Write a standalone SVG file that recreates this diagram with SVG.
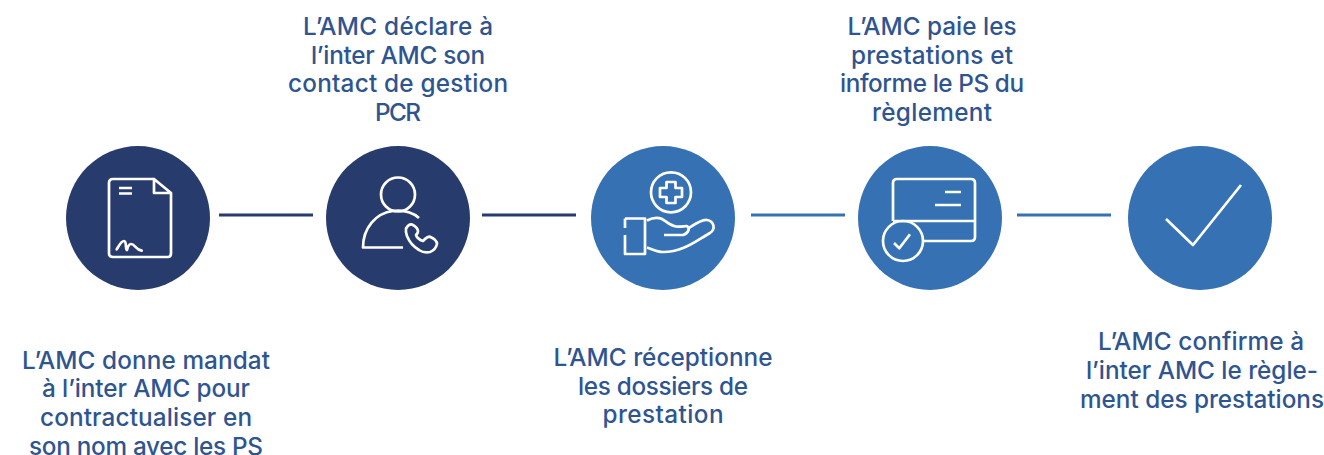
<svg xmlns="http://www.w3.org/2000/svg" width="1324" height="455" viewBox="0 0 1324 455">
<style>
.t{font-family:"Inter","Liberation Sans",sans-serif;font-size:24.3px;font-weight:500;fill:#2f5590;text-anchor:middle}
.i{fill:none;stroke:#fff;stroke-width:2.7;stroke-linejoin:round}
.dk{fill:#273b6c}.bl{fill:#3571b3}
</style>
<rect width="1324" height="455" fill="#fff"/>
<g id="connectors" fill="none" stroke-width="3">
<path d="M219 215H313M482 215H576" stroke="#273b6c"/>
<path d="M751 215H845M1017 215H1111" stroke="#3571b3"/>
</g>
<g id="node1"><circle class="dk" cx="138" cy="218" r="72"/>
<path class="i" d="M154 179H113Q109 179 109 183V253Q109 257 113 257H168Q171 257 171 253V193L154 179V193H171"/>
<path class="i" d="M119 188H132M119 193.500H132"/>
<path class="i" d="M116.700 249.300C119 246 121 241 124 241C127 241 125 249 127 250C128 246 129 244 131 244C135 244 136 250 141.700 250.700" stroke-linecap="round"/>
<text class="t" x="146" y="368.500" textLength="248">L’AMC donne mandat</text><text class="t" x="146" y="397" textLength="208">à l’inter AMC pour</text><text class="t" x="146" y="426" textLength="212">contractualiser en</text><text class="t" x="146" y="454.500" textLength="234">son nom avec les PS</text></g>
<g id="node2"><circle class="dk" cx="398" cy="218" r="72"/>
<circle class="i" cx="398" cy="194.500" r="17"/>
<path class="i" d="M419 218C412 212 402 210 393 211C376 213 363 228 363 247.500H403"/>
<path class="i" d="M406 228.500C408 225 410 224 412 224.500C415 226 418 229 418 231.500C418 233 417 234 416 235C417 238 420 240 423 241C425 239 427 236.500 430 236.700C433 238 437 241 437 244C436 248 433 251 430 252C426 253 422 252 419 250C414 247 409 241 407 236C406 233 405.500 231 406 228.500Z"/>
<text class="t" x="398" y="35" textLength="190">L’AMC déclare à</text><text class="t" x="398" y="64" textLength="174">l’inter AMC son</text><text class="t" x="398" y="92" textLength="220">contact de gestion</text><text class="t" x="398" y="121" textLength="46">PCR</text></g>
<g id="node3"><circle class="bl" cx="663" cy="218" r="72"/>
<circle class="i" cx="671" cy="192.300" r="20"/>
<path class="i" d="M666.500 182H675.500V188H682V197H675.500V203H666.500V197H660V188H666.500Z"/>
<path class="i" d="M625 218.500H645V254H625V235M625 218.500V228"/>
<path class="i" d="M647 220.500C652 218 657 217 662 219C667 222 670 225.500 676 226.500C680 227 684 226 687 226C690 228 689 233 683 235H664M689 228C695 224 702 219 707 220C714 221 716 229 710 233C701 238 692 245 683 248C676 251 669 252 663 252C657 252 652 249 647 247.500"/>
<text class="t" x="663" y="366" textLength="219">L’AMC réceptionne</text><text class="t" x="663" y="395" textLength="170">les dossiers de</text><text class="t" x="663" y="423" textLength="121">prestation</text></g>
<g id="node4"><circle class="bl" cx="930" cy="218" r="72"/>
<path class="i" d="M893 221V183Q893 179 897 179H971Q975 179 975 183V237Q975 241 971 241H923M893 221H975"/>
<path class="i" d="M945 192H961M935 205H961"/>
<circle class="i" cx="903" cy="241" r="20"/>
<path class="i" d="M894 243L899.300 248.300L910 234.300"/>
<text class="t" x="932" y="35" textLength="169">L’AMC paie les</text><text class="t" x="932" y="64" textLength="162">prestations et</text><text class="t" x="932" y="92" textLength="184">informe le PS du</text><text class="t" x="932" y="121" textLength="120">règlement</text></g>
<g id="node5"><circle class="bl" cx="1200" cy="218" r="72"/>
<path class="i" d="M1166 219L1193 245L1241 185"/>
<text class="t" x="1201" y="350" textLength="206">L’AMC confirme à</text><text class="t" x="1202" y="379" textLength="232">l’inter AMC le règle-</text><text class="t" x="1202" y="408" textLength="244">ment des prestations</text></g>
</svg>
